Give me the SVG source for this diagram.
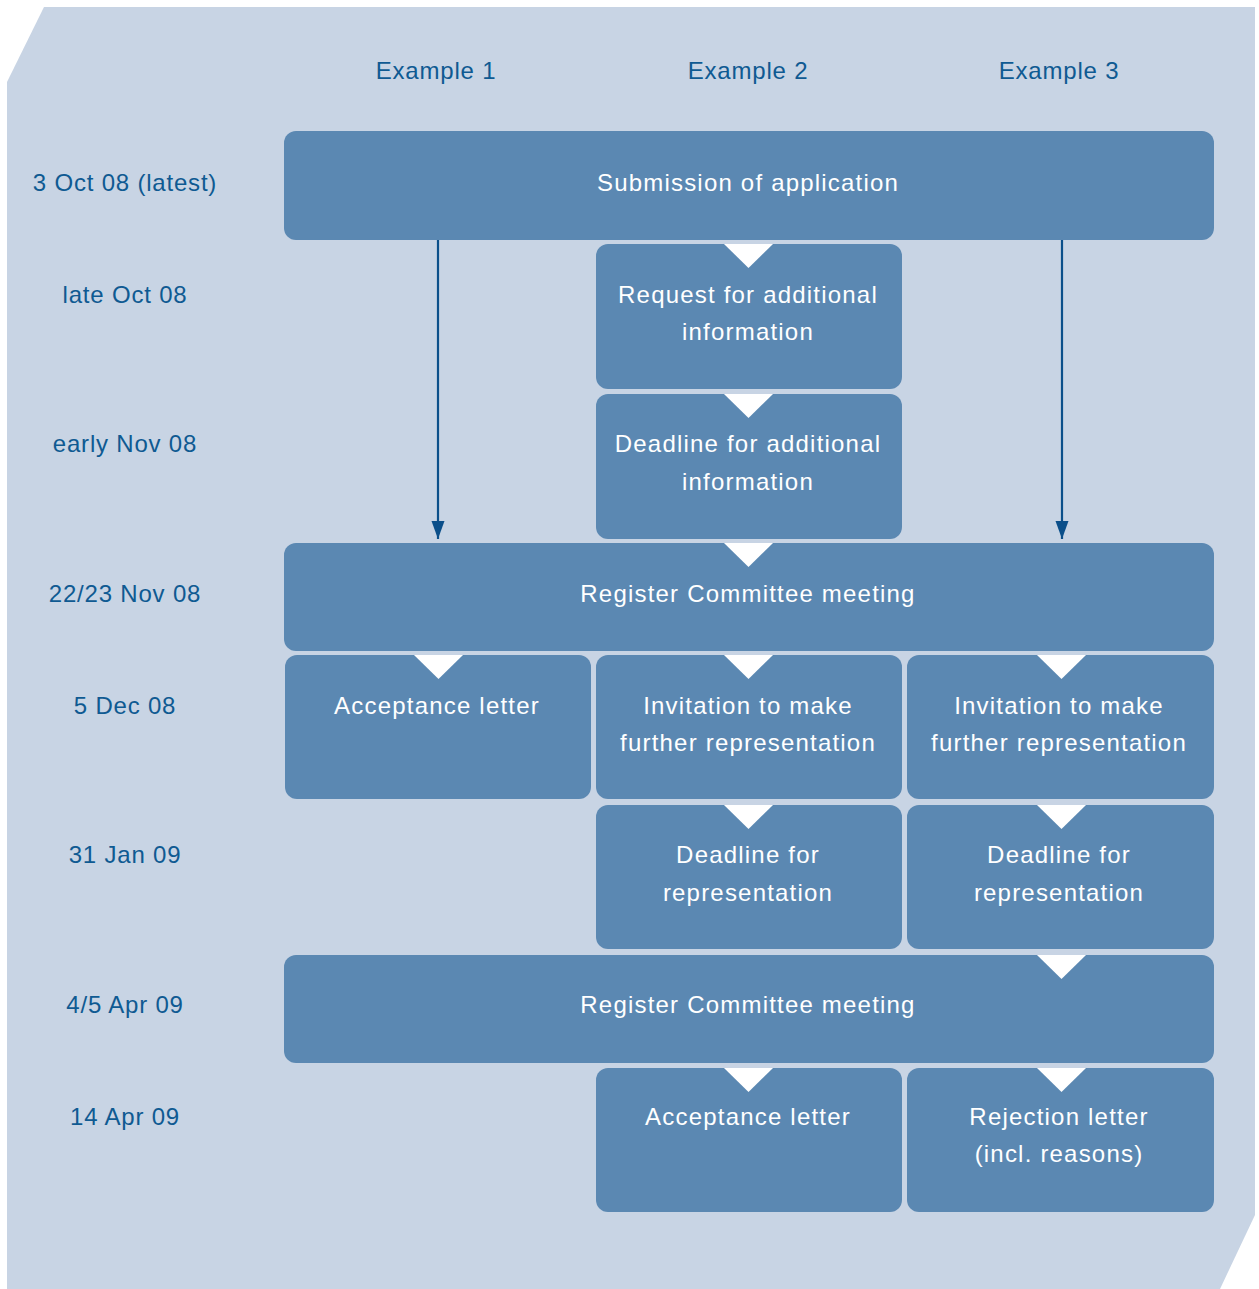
<svg xmlns="http://www.w3.org/2000/svg" width="1259" height="1289" viewBox="0 0 1259 1289">
<defs>
<style>
.bg{fill:#c8d4e4}
.box{fill:#5b88b2}
.tri{fill:#ffffff}
.t{font-family:"Liberation Sans","DejaVu Sans",sans-serif;font-size:24px;fill:#ffffff;text-anchor:middle;letter-spacing:1.2px}
.h{font-family:"Liberation Sans","DejaVu Sans",sans-serif;font-size:24px;fill:#0f5a92;text-anchor:middle;letter-spacing:0.8px}
.arr{stroke:#0b4f8a;stroke-width:2.2;fill:none;marker-end:url(#ah)}
</style>
<marker id="ah" viewBox="0 0 18 14" refX="18" refY="7" markerWidth="18" markerHeight="14" markerUnits="userSpaceOnUse" orient="auto">
<path d="M0,0.5 L18,7 L0,13.5 Z" fill="#0b4f8a"/>
</marker>
</defs>
<path class="bg" d="M44,7 L1255,7 L1255,1215 L1220,1289 L7,1289 L7,82 Z"/>

<g id="headers">
<text class="h" x="436" y="79">Example 1</text>
<text class="h" x="748" y="79">Example 2</text>
<text class="h" x="1059" y="79">Example 3</text>
</g>
<g id="dates">
<text class="h" x="125" y="191">3 Oct 08 (latest)</text>
<text class="h" x="125" y="303">late Oct 08</text>
<text class="h" x="125" y="452">early Nov 08</text>
<text class="h" x="125" y="602">22/23 Nov 08</text>
<text class="h" x="125" y="714">5 Dec 08</text>
<text class="h" x="125" y="863">31 Jan 09</text>
<text class="h" x="125" y="1013">4/5 Apr 09</text>
<text class="h" x="125" y="1125">14 Apr 09</text>
</g>

<g id="submission">
<rect class="box" x="284" y="131" width="930" height="109" rx="12"/>
<text class="t" x="748" y="191">Submission of application</text>
</g>
<g id="request">
<rect class="box" x="596" y="244" width="306" height="145" rx="12"/>
<path class="tri" d="M724,244 L773,244 L748.5,268 Z"/>
<text class="t" x="748" y="303">Request for additional</text>
<text class="t" x="748" y="340">information</text>
</g>
<g id="deadline-info">
<rect class="box" x="596" y="394" width="306" height="145" rx="12"/>
<path class="tri" d="M724,394 L773,394 L748.5,418 Z"/>
<text class="t" x="748" y="452">Deadline for additional</text>
<text class="t" x="748" y="490">information</text>
</g>
<g id="register1">
<rect class="box" x="284" y="543" width="930" height="108" rx="12"/>
<path class="tri" d="M724,543 L773,543 L748.5,567 Z"/>
<text class="t" x="748" y="602">Register Committee meeting</text>
</g>
<g id="accept1">
<rect class="box" x="285" y="655" width="306" height="144" rx="12"/>
<path class="tri" d="M414,655 L463,655 L438.5,679 Z"/>
<text class="t" x="437" y="714">Acceptance letter</text>
</g>
<g id="invite2">
<rect class="box" x="596" y="655" width="306" height="144" rx="12"/>
<path class="tri" d="M724,655 L773,655 L748.5,679 Z"/>
<text class="t" x="748" y="714">Invitation to make</text>
<text class="t" x="748" y="751">further representation</text>
</g>
<g id="invite3">
<rect class="box" x="907" y="655" width="307" height="144" rx="12"/>
<path class="tri" d="M1037,655 L1086,655 L1061.5,679 Z"/>
<text class="t" x="1059" y="714">Invitation to make</text>
<text class="t" x="1059" y="751">further representation</text>
</g>
<g id="deadline-rep2">
<rect class="box" x="596" y="805" width="306" height="144" rx="12"/>
<path class="tri" d="M724,805 L773,805 L748.5,829 Z"/>
<text class="t" x="748" y="863">Deadline for</text>
<text class="t" x="748" y="901">representation</text>
</g>
<g id="deadline-rep3">
<rect class="box" x="907" y="805" width="307" height="144" rx="12"/>
<path class="tri" d="M1037,805 L1086,805 L1061.5,829 Z"/>
<text class="t" x="1059" y="863">Deadline for</text>
<text class="t" x="1059" y="901">representation</text>
</g>
<g id="register2">
<rect class="box" x="284" y="955" width="930" height="108" rx="12"/>
<path class="tri" d="M1037,955 L1086,955 L1061.5,979 Z"/>
<text class="t" x="748" y="1013">Register Committee meeting</text>
</g>
<g id="accept2">
<rect class="box" x="596" y="1068" width="306" height="144" rx="12"/>
<path class="tri" d="M724,1068 L773,1068 L748.5,1092 Z"/>
<text class="t" x="748" y="1125">Acceptance letter</text>
</g>
<g id="reject3">
<rect class="box" x="907" y="1068" width="307" height="144" rx="12"/>
<path class="tri" d="M1037,1068 L1086,1068 L1061.5,1092 Z"/>
<text class="t" x="1059" y="1125">Rejection letter</text>
<text class="t" x="1059" y="1162">(incl. reasons)</text>
</g>

<g id="connectors">
<line class="arr" x1="438" y1="240" x2="438" y2="539"/>
<line class="arr" x1="1062" y1="240" x2="1062" y2="539"/>
</g>
</svg>
